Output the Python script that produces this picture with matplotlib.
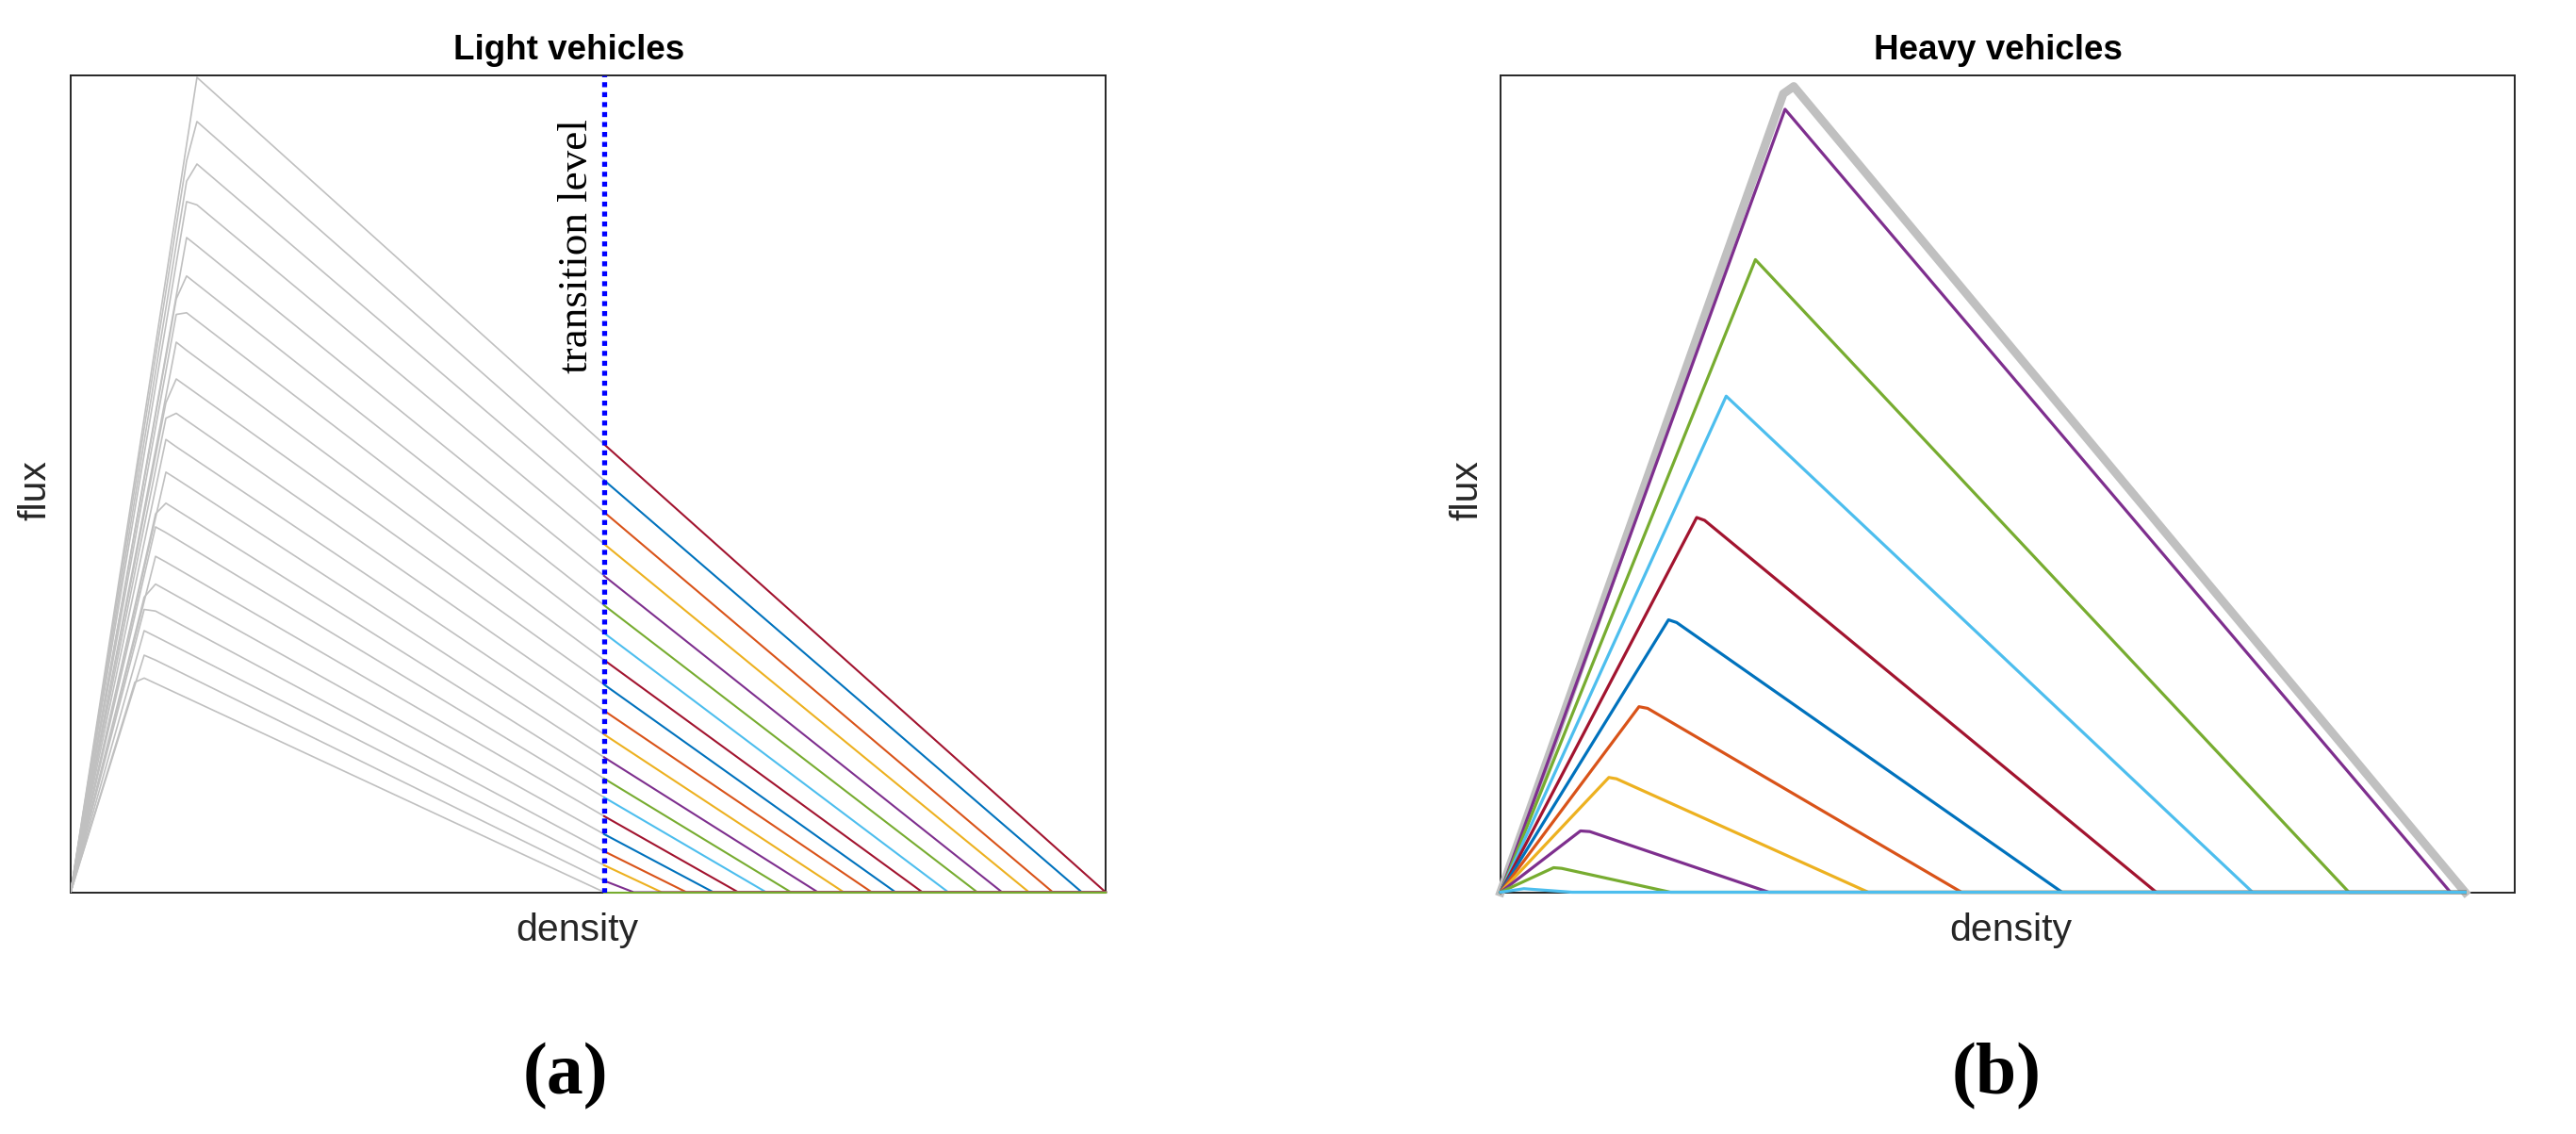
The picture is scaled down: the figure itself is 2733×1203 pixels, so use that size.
import matplotlib.pyplot as plt

# ---- light vehicles: one curve per heavy-vehicle level, top to bottom ----
# last grid point on the free branch, next grid point, flux at the
# transition density and jam density (axis units 0..1)
lv_knee_rho = [0.112, 0.112, 0.112, 0.112, 0.112, 0.102, 0.102, 0.102, 0.092, 0.092,
               0.092, 0.092, 0.082, 0.082, 0.082, 0.071, 0.071, 0.071, 0.071, 0.062]
lv_knee_q = [0.915, 0.895, 0.870, 0.845, 0.801, 0.726, 0.707, 0.673, 0.599, 0.580,
             0.554, 0.514, 0.463, 0.447, 0.411, 0.361, 0.346, 0.320, 0.290, 0.257]
lv_next_rho = [0.122, 0.122, 0.122, 0.122, 0.122, 0.112, 0.112, 0.112, 0.102, 0.102,
               0.102, 0.102, 0.092, 0.092, 0.092, 0.082, 0.082, 0.082, 0.082, 0.071]
lv_next_q = [0.997, 0.943, 0.891, 0.841, 0.791, 0.754, 0.709, 0.663, 0.628, 0.586,
             0.545, 0.506, 0.476, 0.440, 0.404, 0.377, 0.344, 0.313, 0.284, 0.262]
lv_trans_q = [0.548, 0.504, 0.465, 0.426, 0.387, 0.351, 0.317, 0.284, 0.254, 0.222,
              0.193, 0.165, 0.139, 0.116, 0.093, 0.071, 0.050, 0.033, 0.014, 0.0]
lv_jam = [1.000, 0.977, 0.949, 0.926, 0.900, 0.876, 0.848, 0.823, 0.797, 0.774,
          0.747, 0.722, 0.696, 0.672, 0.645, 0.621, 0.595, 0.571, 0.544, 0.519]
lv_trans_rho = 0.5155
lv_rho_max = 1.0

# ---- heavy vehicles: envelope (gray) and curves top to bottom ----
hv_env_rho = [0.0, 0.2788, 0.2891, 0.951]
hv_env_q = [0.0, 0.977, 0.986, 0.0]
hv_peak_rho = [0.2805, 0.2513, 0.2225, 0.1934, 0.1656, 0.1365, 0.1068, 0.0788, 0.0523, 0.023]
hv_peak_q = [0.958, 0.774, 0.607, 0.4585, 0.3333, 0.227, 0.1404, 0.075, 0.030, 0.0043]
hv_next_rho = [0.2805, 0.2513, 0.2225, 0.2012, 0.1736, 0.145, 0.1143, 0.088, 0.0602, 0.023]
hv_next_q = [0.958, 0.774, 0.607, 0.455, 0.330, 0.225, 0.1388, 0.0742, 0.0292, 0.0043]
hv_jam = [0.9366, 0.8365, 0.7415, 0.6465, 0.5536, 0.4545, 0.3626, 0.2645, 0.1675, 0.0705]
hv_rho_max = 0.951

c_blue = '#0072BD'
c_orange = '#D95319'
c_yellow = '#EDB120'
c_purple = '#7E2F8E'
c_green = '#77AC30'
c_lblue = '#4DBEEE'
c_red = '#A2142F'
lv_colors = [c_red, c_blue, c_orange, c_yellow, c_purple, c_green, c_lblue]
hv_colors = [c_purple, c_green, c_lblue, c_red, c_blue, c_orange, c_yellow]
gray = '#C0C0C0'

W, H = 2733, 1203
fig = plt.figure(figsize=(W / 100, H / 100), dpi=100)
ax1 = fig.add_axes([75 / W, 1 - 946.5 / H, 1098 / W, 867 / H])
ax2 = fig.add_axes([1592 / W, 1 - 946.5 / H, 1076 / W, 867 / H])

# light vehicles
for i in range(len(lv_jam)):
    ax1.plot([0, lv_knee_rho[i], lv_next_rho[i], lv_trans_rho],
             [0, lv_knee_q[i], lv_next_q[i], lv_trans_q[i]],
             color=gray, lw=1.2, zorder=3)
for i in range(len(lv_jam)):
    ax1.plot([lv_trans_rho, lv_jam[i], lv_rho_max], [lv_trans_q[i], 0, 0],
             color=lv_colors[i % 7], lw=1.5, zorder=3, clip_on=False)
ax1.plot([lv_trans_rho, lv_trans_rho], [0, 1], color='#0000FF', lw=3.8,
         linestyle=(0, (1, 1)), zorder=4)
ax1.text(lv_trans_rho - 0.008, 0.946, 'transition level', rotation=90,
         ha='right', va='top', fontsize=32.5, family='Liberation Serif')

# heavy vehicles
ax2.plot(hv_env_rho + [hv_rho_max], hv_env_q + [0], color=gray, lw=6.5,
         zorder=3, clip_on=False)
for i in range(len(hv_jam)):
    ax2.plot([0, hv_peak_rho[i], hv_next_rho[i], hv_jam[i], hv_rho_max],
             [0, hv_peak_q[i], hv_next_q[i], 0, 0],
             color=hv_colors[i % 7], lw=2.3, zorder=3, clip_on=False)

for ax in (ax1, ax2):
    ax.set_xlim(0, 1)
    ax.set_ylim(0, 1)
    ax.set_xticks([])
    ax.set_yticks([])
    for s in ax.spines.values():
        s.set_linewidth(1.4)
        s.set_color('#262626')

sans = 'Liberation Sans'
fig.text(604 / W, 1 - 62.7 / H, 'Light vehicles', ha='center', va='baseline',
         fontsize=26.5, fontweight='bold', family=sans)
fig.text(2120 / W, 1 - 62.7 / H, 'Heavy vehicles', ha='center', va='baseline',
         fontsize=26.5, fontweight='bold', family=sans)
fig.text(612 / W, 1 - 987 / H, 'density', ha='center', va='center', fontsize=29.5,
         family=sans, color='#262626')
fig.text(2133 / W, 1 - 987 / H, 'density', ha='center', va='center', fontsize=29.5,
         family=sans, color='#262626')
fig.text(37 / W, 1 - 520 / H, 'flux', ha='center', va='center', rotation=90,
         fontsize=29.5, family=sans, color='#262626')
fig.text(1556 / W, 1 - 520 / H, 'flux', ha='center', va='center', rotation=90,
         fontsize=29.5, family=sans, color='#262626')
fig.text(600 / W, 1 - 1142 / H, '(a)', ha='center', va='center', fontsize=56,
         fontweight='bold', family='Liberation Serif')
fig.text(2118 / W, 1 - 1142 / H, '(b)', ha='center', va='center', fontsize=56,
         fontweight='bold', family='Liberation Serif')

fig.savefig('out.png', dpi=100)
